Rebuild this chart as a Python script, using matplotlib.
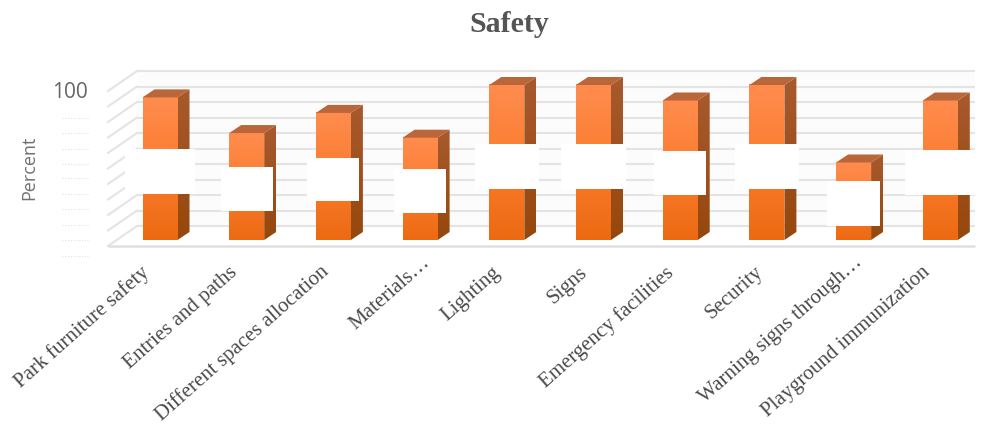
import numpy as np
import matplotlib
matplotlib.use("Agg")
import matplotlib.pyplot as plt
from matplotlib.colors import LinearSegmentedColormap
from matplotlib.patches import Polygon, Rectangle

categories = ["Park furniture safety", "Entries and paths", "Different spaces allocation",
              "Materials…", "Lighting", "Signs", "Emergency facilities", "Security",
              "Warning signs through…", "Playground immunization"]
values = [92, 69, 82, 66, 100, 100, 90, 100, 50, 90]
# white label blocks hiding the data labels
mask_low = [30, 19, 25, 17.5, 33, 33, 29, 33, 9, 29]
mask_high = [59, 47, 53, 46, 62, 62, 57.5, 62, 38, 58]
mask_width = [0.81, 0.60, 0.60, 0.60, 0.74, 0.74, 0.60, 0.74, 0.61, 0.81]
grid_values = list(range(0, 101, 10))
faint_ticks = [79, 69, 59, 49, 40, 30, 20, 10, 0, -10]
label_dx = [-20, -18, -14, 1, -15, -15, -15, -13, 0, -19]
label_dy = [263, 263, 262, 253, 263, 263, 263, 263, 253, 263]

W, H = 996, 425
PX_X = 86.7            # pixels per category
PX_Y = 1.55            # pixels per percent
X0, Y0 = 160, 240      # pixel position of category 0 / value 0
DX = 12 / PX_X         # bar depth
DY = 8 / PX_Y
BW = 35 / PX_X

fig = plt.figure(figsize=(W / 100, H / 100), dpi=100, facecolor="white")
ax = fig.add_axes([0, 0, 1, 1])
ax.set_xlim(-X0 / PX_X, (W - X0) / PX_X)
ax.set_ylim(-(H - Y0) / PX_Y, Y0 / PX_Y)
ax.axis("off")

def px(x):
    return (x - X0) / PX_X

def py(y):
    return (Y0 - y) / PX_Y

# wall and floor
back0 = py(226)
front0 = py(246)
xl_b, xl_f, xr = px(137), px(108), px(975)
grid_c = "#E4E4E4"
ax.add_patch(Polygon([(xl_b, back0 + 100), (xr, back0 + 100), (xr, back0), (xl_b, back0)],
                     facecolor="#FCFCFC", edgecolor="none", zorder=0))
for v in grid_values:
    ax.plot([xl_b, xr], [back0 + v, back0 + v], color=grid_c, lw=1.5, zorder=1, solid_capstyle="butt")
    ax.plot([xl_f, xl_b], [front0 + v, back0 + v], color=grid_c, lw=1.5, zorder=1)
ax.plot([xl_f, xr], [front0, front0], color="#E0E0E0", lw=1.8, zorder=1, solid_capstyle="butt")

front_cm = LinearSegmentedColormap.from_list("f", ["#FF8C4E", "#FB7C2E", "#EC6A12"])
side_cm = LinearSegmentedColormap.from_list("s", ["#A85A2E", "#A0501E", "#95480C"])
grad = np.linspace(0, 1, 64).reshape(-1, 1)

for i, v in enumerate(values):
    l, r = i - BW / 2, i + BW / 2
    im = ax.imshow(grad, cmap=front_cm, extent=(l, r, 0, v), aspect="auto", zorder=3)
    im2 = ax.imshow(grad, cmap=side_cm, extent=(r, r + DX, 0, v + DY), aspect="auto", zorder=3)
    im2.set_clip_path(Polygon([(r, 0), (r + DX, DY), (r + DX, v + DY), (r, v)], transform=ax.transData))
    ax.add_patch(Polygon([(l, v), (r, v), (r + DX, v + DY), (l + DX, v + DY)],
                         facecolor="#B8663A", edgecolor="none", zorder=3))

ax.set_xlim(-X0 / PX_X, (W - X0) / PX_X)
ax.set_ylim(-(H - Y0) / PX_Y, Y0 / PX_Y)

for i, (lo, hi, w) in enumerate(zip(mask_low, mask_high, mask_width)):
    ax.add_patch(Rectangle((i - w / 2, lo), w, hi - lo, facecolor="white",
                           edgecolor="none", zorder=4))

# axis text
ax.text(px(70), py(92.5), "100", color="#666666", fontsize=15, family="Open Sans",
        ha="center", va="center", zorder=5)
for t in faint_ticks:
    ax.plot([px(62), px(88)], [t, t], color="#E2E2E2", lw=0.8, ls=(0, (1, 1.5)), zorder=2)
ax.text(px(29), py(168), "Percent", color="#707070", fontsize=13, family="Open Sans",
        rotation=90, ha="center", va="center", zorder=5)
ax.text(px(509), py(24), "Safety", color="#555555", fontsize=21.5, family="Liberation Serif",
        fontweight="bold", ha="center", va="center", zorder=5)

for i, c in enumerate(categories):
    ax.text(i + label_dx[i] / PX_X, py(label_dy[i]), c, color="#4A4A4A", fontsize=15,
            family="Liberation Serif", rotation=41.5, ha="right", va="top",
            rotation_mode="anchor", zorder=5)

fig.savefig("out.png", dpi=100)
